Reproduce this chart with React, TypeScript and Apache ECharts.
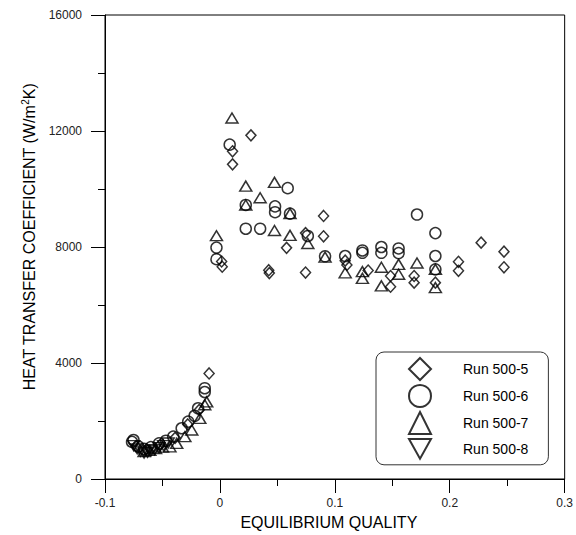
import React, { useEffect, useRef } from "react";
import * as echarts from "echarts";

// Run 500-5 (diamonds)
const run5: [number, number][] = [
  [-0.0094, 3640], [-0.018, 2380], [-0.028, 1880], [-0.039, 1420], [-0.052, 1180], [-0.064, 1020], [-0.073, 1130],
  [0.027, 11850], [0.011, 11300], [0.011, 10850], [0.0015, 7500], [0.002, 7320],
  [0.0425, 7200], [0.043, 7100], [0.058, 7970], [0.0745, 8480], [0.0745, 7120],
  [0.0902, 9070], [0.0902, 8370], [0.109, 7530], [0.1105, 7380], [0.129, 7190],
  [0.1485, 7000], [0.1485, 6630], [0.169, 7000], [0.169, 6770], [0.1875, 6770],
  [0.2076, 7490], [0.2076, 7180], [0.2273, 8150], [0.2472, 7840], [0.2472, 7300],
];

// Run 500-6 (circles)
const run6: [number, number][] = [
  [-0.0765, 1280], [-0.0752, 1345], [-0.071, 1120], [-0.066, 1040], [-0.06, 1100], [-0.053, 1230],
  [-0.047, 1320], [-0.0406, 1460], [-0.0333, 1750], [-0.0276, 1980], [-0.022, 2180], [-0.019, 2440],
  [-0.0132, 3000], [-0.0132, 3130],
  [0.0085, 11530], [0.059, 10030], [0.0225, 9450], [0.048, 9400], [0.048, 9200], [0.061, 9150],
  [0.0225, 8630], [0.035, 8630], [0.0765, 8380], [-0.003, 7980], [-0.003, 7580], [0.0915, 7680],
  [0.109, 7690], [0.124, 7880], [0.124, 7800], [0.1405, 8000], [0.1405, 7800], [0.1555, 7950],
  [0.1555, 7790], [0.1715, 9120], [0.1875, 8480], [0.1875, 7690], [0.1875, 7230],
];

// Run 500-7 (triangles)
const run7: [number, number][] = [
  [-0.066, 950], [-0.061, 990], [-0.056, 1050], [-0.05, 1100], [-0.0435, 1110], [-0.0376, 1230],
  [-0.0305, 1460], [-0.0245, 1690], [-0.0175, 2090], [-0.0132, 2560], [-0.0115, 2660],
  [0.0105, 12450], [0.0225, 10100], [0.0475, 10230], [0.035, 9700], [0.0225, 9450], [0.061, 9150],
  [0.0475, 8570], [0.061, 8400], [-0.003, 8390], [0.0765, 8120], [0.0915, 7650], [0.109, 7110],
  [0.124, 7150], [0.124, 6920], [0.1405, 7300], [0.1405, 6660], [0.1555, 7400], [0.1555, 7060],
  [0.1715, 7450], [0.1875, 7230], [0.1875, 6600],
];

// Run 500-8 (inverted triangles)
const run8: [number, number][] = [
  [-0.075, 1150], [-0.072, 1040], [-0.069, 960], [-0.066, 900], [-0.063, 920], [-0.06, 970],
  [-0.057, 1010], [-0.053, 1080], [-0.049, 1150], [-0.045, 1240],
];

const seriesNames = ["Run 500-5", "Run 500-6", "Run 500-7", "Run 500-8"];
const xTicks = { min: -0.1, max: 0.3, interval: 0.1 };
const yTicks = { min: 0, max: 16000, interval: 4000 };

const FONT = "'Liberation Sans', Arial, sans-serif";
const DOWN_TRIANGLE = "path://M0,0L20,0L10,18Z";

export default function App() {
  const ref = useRef<HTMLDivElement>(null);

  useEffect(() => {
    document.body.style.margin = "0";
    if (!ref.current) return;
    const chart = echarts.init(ref.current, undefined, { renderer: "svg" });

    const markerStyle = { color: "transparent", borderColor: "#000", borderWidth: 1.5 };
    const scatter = (name: string, data: [number, number][], symbol: string, size: number | number[]) => ({
      name,
      type: "scatter",
      data,
      symbol,
      symbolSize: size,
      itemStyle: markerStyle,
      emphasis: { disabled: true },
    });

    chart.setOption({
      animation: false,
      textStyle: { fontFamily: FONT },
      grid: {
        left: 105,
        right: 9,
        top: 15,
        bottom: 56,
        show: true,
        borderColor: "#000",
        borderWidth: 1,
      },
      legend: {
        orient: "vertical",
        left: 376,
        top: 352,
        data: seriesNames,
        itemWidth: 22,
        itemHeight: 22,
        itemGap: 3,
        padding: [5, 20, 5, 32],
        borderColor: "#333",
        borderWidth: 1,
        borderRadius: 8,
        backgroundColor: "#fff",
        selectedMode: false,
        textStyle: { fontFamily: FONT, fontSize: 14, color: "#000", padding: [0, 0, 0, 27] },
      },
      xAxis: {
        type: "value",
        ...xTicks,
        name: "EQUILIBRIUM QUALITY",
        nameLocation: "middle",
        nameGap: 35,
        nameTextStyle: { fontFamily: FONT, fontSize: 16, color: "#000", padding: [0, 12, 0, 0] },
        axisLine: { show: true, onZero: false, lineStyle: { color: "#000", width: 1 } },
        axisTick: { show: true, length: 14, lineStyle: { color: "#000" } },
        minorTick: { show: true, splitNumber: 2, length: 7, lineStyle: { color: "#000" } },
        splitLine: { show: false },
        axisLabel: {
          margin: 18,
          fontSize: 12,
          color: "#222",
          formatter: (v: number) => String(Math.round(v * 10) / 10),
        },
      },
      yAxis: {
        type: "value",
        ...yTicks,
        name: "{a|HEAT TRANSFER COEFFICIENT (W/m}{s|2}{a|K)}",
        nameLocation: "middle",
        nameGap: 66,
        nameRotate: 90,
        nameTextStyle: {
          fontFamily: FONT,
          color: "#000",
          padding: [0, 0, 0, 20],
          rich: {
            a: { fontFamily: FONT, fontSize: 16, color: "#000", lineHeight: 18 },
            s: { fontFamily: FONT, fontSize: 10, color: "#000", lineHeight: 18, verticalAlign: "top" },
          },
        },
        axisLine: { show: true, onZero: false, lineStyle: { color: "#000", width: 1 } },
        axisTick: { show: true, length: 14, lineStyle: { color: "#000" } },
        minorTick: { show: true, splitNumber: 2, length: 7, lineStyle: { color: "#000" } },
        splitLine: { show: false },
        axisLabel: { margin: 23, fontSize: 12, color: "#222", formatter: (v: number) => String(v) },
      },
      series: [
        scatter(seriesNames[0], run5, "diamond", [10, 11]),
        scatter(seriesNames[1], run6, "circle", 11),
        scatter(seriesNames[2], run7, "triangle", [12, 10]),
        scatter(seriesNames[3], run8, DOWN_TRIANGLE, [12, 10]),
      ],
    });

    return () => chart.dispose();
  }, []);

  return <div ref={ref} style={{ width: 576, height: 535 }} />;
}
